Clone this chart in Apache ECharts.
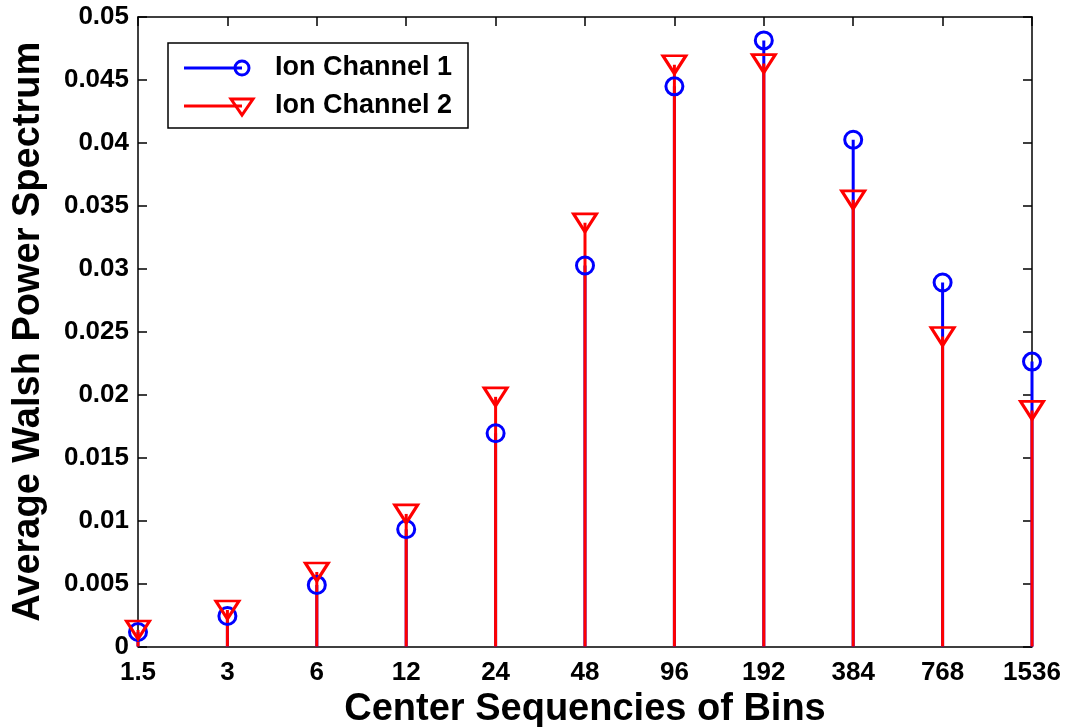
<!DOCTYPE html>
<html>
<head>
<meta charset="utf-8">
<script src="https://cdn.jsdelivr.net/npm/echarts@6/dist/echarts.min.js"></script>
<style>
  html, body { margin: 0; padding: 0; background: #fff; overflow: hidden; }
  #chart { width: 1067px; height: 727px; }
</style>
</head>
<body>
<div id="chart"></div>
<script>
// Bin centres (sequency) and the averaged Walsh power of each channel
const binCenters = ['1.5', '3', '6', '12', '24', '48', '96', '192', '384', '768', '1536'];
const channel1 = [0.00115, 0.00242, 0.00489, 0.00931, 0.01694, 0.03026, 0.04449, 0.04814, 0.04025, 0.02891, 0.02263];
const channel2 = [0.00131, 0.00290, 0.00592, 0.01053, 0.01983, 0.03365, 0.04621, 0.04630, 0.03548, 0.02462, 0.01875];
const seriesNames = ['Ion Channel 1', 'Ion Channel 2'];

const FONT = 'Liberation Sans, Arial, Helvetica, sans-serif';
const BLUE = '#0000ff';
const RED = '#ff0000';

// vertical stem from zero up to the value, placed through the axis scales
function stemSeries(values, color) {
  return {
    type: 'custom', silent: true, clip: false, z: 3,
    data: values.map((v, i) => [i, v]),
    renderItem: function (params, api) {
      const base = api.coord([api.value(0), 0]);
      const top = api.coord([api.value(0), api.value(1)]);
      return {
        type: 'line',
        shape: { x1: base[0], y1: base[1], x2: top[0], y2: top[1] },
        style: { stroke: color, lineWidth: 3 }
      };
    }
  };
}

// hollow marker at the tip of each stem
function markerSeries(name, values, color, symbol, size, rotate) {
  return {
    name: name, type: 'scatter',
    data: values.map((v, i) => [i, v]),
    symbol: symbol, symbolSize: size, symbolRotate: rotate,
    itemStyle: { color: 'rgba(0,0,0,0)', borderColor: color, borderWidth: 3, opacity: 1 },
    clip: false, silent: true, z: 4
  };
}

const tickFmt = v => String(parseFloat(Number(v).toFixed(4)));
const axisStyle = { color: '#000', width: 1.5 };
const labelStyle = { color: '#000', fontFamily: FONT, fontWeight: 'bold', fontSize: 26 };
const titleStyle = { color: '#000', fontFamily: FONT, fontWeight: 'bold', fontSize: 38 };

const chart = echarts.init(document.getElementById('chart'));

// legend frame and entries
const lgX = 168, lgY = 43, lgW = 300, lgH = 85;
const row1 = 68, row2 = 106;
const mk = 242;

chart.setOption({
  animation: false,
  backgroundColor: '#fff',
  grid: { left: 138, right: 35, top: 17, bottom: 80.5, containLabel: false, outerBoundsMode: 'none' },
  xAxis: [
    {
      type: 'category', data: binCenters, boundaryGap: false, position: 'bottom',
      axisLine: { onZero: false, lineStyle: axisStyle },
      axisTick: { inside: true, length: 9, lineStyle: axisStyle },
      axisLabel: Object.assign({ margin: 13, interval: 0, showMinLabel: true, showMaxLabel: true, hideOverlap: false }, labelStyle),
      splitLine: { show: false },
      name: 'Center Sequencies of Bins', nameLocation: 'middle', nameGap: 37,
      nameTextStyle: titleStyle
    },
    {
      type: 'category', data: binCenters, boundaryGap: false, position: 'top',
      axisLine: { onZero: false, lineStyle: axisStyle },
      axisTick: { inside: true, length: 9, lineStyle: axisStyle },
      axisLabel: { show: false }, splitLine: { show: false }
    }
  ],
  yAxis: [
    {
      type: 'value', min: 0, max: 0.05, interval: 0.005, position: 'left',
      axisLine: { show: true, onZero: false, lineStyle: axisStyle },
      axisTick: { show: true, inside: true, length: 9, lineStyle: axisStyle },
      axisLabel: Object.assign({ margin: 9, formatter: tickFmt, showMinLabel: true, showMaxLabel: true, hideOverlap: false }, labelStyle),
      splitLine: { show: false },
      name: 'Average Walsh Power Spectrum', nameLocation: 'middle', nameGap: 90,
      nameTextStyle: titleStyle
    },
    {
      type: 'value', min: 0, max: 0.05, interval: 0.005, position: 'right',
      axisLine: { show: true, onZero: false, lineStyle: axisStyle },
      axisTick: { show: true, inside: true, length: 9, lineStyle: axisStyle },
      axisLabel: { show: false }, splitLine: { show: false }
    }
  ],
  series: [
    stemSeries(channel1, BLUE),
    markerSeries(seriesNames[0], channel1, BLUE, 'circle', 17, 0),
    stemSeries(channel2, RED),
    markerSeries(seriesNames[1], channel2, RED, 'triangle', [23, 18], 180)
  ],
  graphic: [
    {
      type: 'group', z: 100,
      children: [
        { type: 'rect', shape: { x: lgX, y: lgY, width: lgW, height: lgH }, style: { fill: '#fff', stroke: '#000', lineWidth: 1.5 } },
        { type: 'line', shape: { x1: 184, y1: row1, x2: mk, y2: row1 }, style: { stroke: BLUE, lineWidth: 3 } },
        { type: 'circle', shape: { cx: mk, cy: row1, r: 7 }, style: { fill: null, stroke: BLUE, lineWidth: 3 } },
        { type: 'text', style: { x: 275, y: row1, text: seriesNames[0], fill: '#000', font: 'bold 27px ' + FONT, textVerticalAlign: 'middle', verticalAlign: 'middle' } },
        { type: 'line', shape: { x1: 184, y1: row2, x2: mk, y2: row2 }, style: { stroke: RED, lineWidth: 3 } },
        { type: 'polygon', shape: { points: [[mk - 11, row2 - 7], [mk + 11, row2 - 7], [mk, row2 + 9]] }, style: { fill: null, stroke: RED, lineWidth: 3 } },
        { type: 'text', style: { x: 275, y: row2, text: seriesNames[1], fill: '#000', font: 'bold 27px ' + FONT, textVerticalAlign: 'middle', verticalAlign: 'middle' } }
      ]
    }
  ]
});
</script>
</body>
</html>
